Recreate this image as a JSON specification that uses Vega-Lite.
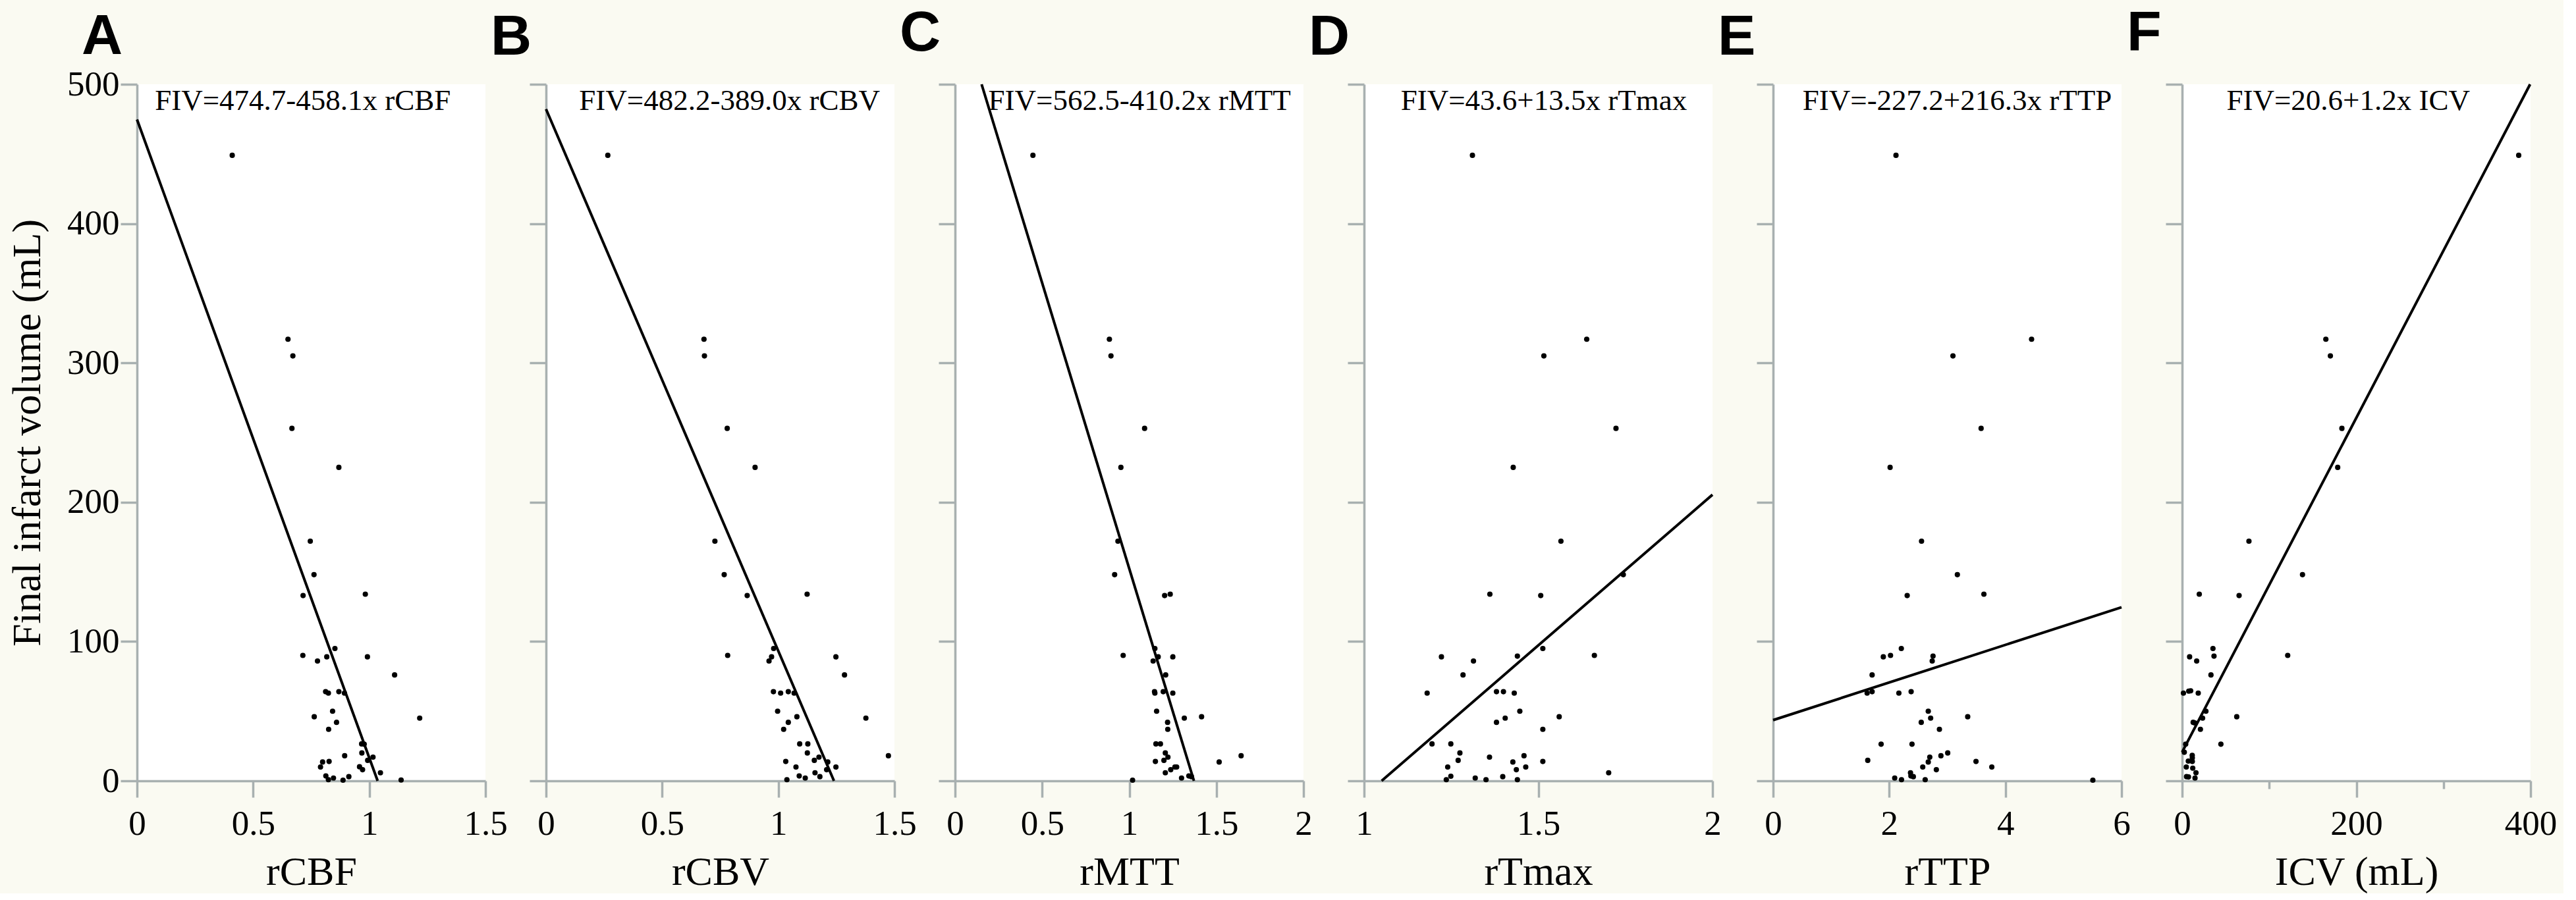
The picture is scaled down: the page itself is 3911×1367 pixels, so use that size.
{
  "$schema": "https://vega.github.io/schema/vega-lite/v6.json",
  "background": "#fafaf2",
  "padding": {"left": 10, "top": 8, "right": 10, "bottom": 2},
  "bounds": "flush",
  "spacing": 92,
  "datasets": {
    "pts": [
      {"panel":"A","x":0.41,"y":449},{"panel":"A","x":0.65,"y":317},{"panel":"A","x":0.671,"y":305},{"panel":"A","x":0.667,"y":253},{"panel":"A","x":0.869,"y":225},{"panel":"A","x":0.746,"y":172},{"panel":"A","x":0.762,"y":148},{"panel":"A","x":0.715,"y":133},{"panel":"A","x":0.983,"y":134},{"panel":"A","x":0.852,"y":95},{"panel":"A","x":0.714,"y":90},{"panel":"A","x":0.817,"y":89},{"panel":"A","x":0.777,"y":86},{"panel":"A","x":0.992,"y":89},{"panel":"A","x":1.109,"y":76},{"panel":"A","x":0.812,"y":64},{"panel":"A","x":0.824,"y":63},{"panel":"A","x":0.869,"y":64},{"panel":"A","x":0.893,"y":63},{"panel":"A","x":0.842,"y":50},{"panel":"A","x":0.763,"y":46},{"panel":"A","x":1.217,"y":45},{"panel":"A","x":0.859,"y":42},{"panel":"A","x":0.825,"y":37},{"panel":"A","x":0.967,"y":26.5},{"panel":"A","x":0.978,"y":26.3},{"panel":"A","x":0.968,"y":20},{"panel":"A","x":0.894,"y":18},{"panel":"A","x":1.016,"y":17},{"panel":"A","x":0.993,"y":14.7},{"panel":"A","x":0.799,"y":13.5},{"panel":"A","x":0.827,"y":13.9},{"panel":"A","x":0.79,"y":9.9},{"panel":"A","x":0.958,"y":10.1},{"panel":"A","x":0.971,"y":8},{"panel":"A","x":1.048,"y":5.8},{"panel":"A","x":0.813,"y":3.5},{"panel":"A","x":0.846,"y":2},{"panel":"A","x":0.912,"y":3},{"panel":"A","x":0.824,"y":0.8},{"panel":"A","x":0.887,"y":0.5},{"panel":"A","x":1.137,"y":0.6},
      {"panel":"B","x":0.266,"y":449},{"panel":"B","x":0.68,"y":317},{"panel":"B","x":0.682,"y":305},{"panel":"B","x":0.78,"y":253},{"panel":"B","x":0.9,"y":225},{"panel":"B","x":0.727,"y":172},{"panel":"B","x":0.767,"y":148},{"panel":"B","x":0.866,"y":133},{"panel":"B","x":1.124,"y":134},{"panel":"B","x":0.98,"y":95},{"panel":"B","x":0.782,"y":90},{"panel":"B","x":0.971,"y":89},{"panel":"B","x":0.96,"y":86},{"panel":"B","x":1.248,"y":89},{"panel":"B","x":1.285,"y":76},{"panel":"B","x":0.979,"y":64},{"panel":"B","x":1.01,"y":63},{"panel":"B","x":1.043,"y":64},{"panel":"B","x":1.068,"y":63},{"panel":"B","x":0.997,"y":50},{"panel":"B","x":1.08,"y":46},{"panel":"B","x":1.377,"y":45},{"panel":"B","x":1.043,"y":42},{"panel":"B","x":1.023,"y":37},{"panel":"B","x":1.092,"y":26.5},{"panel":"B","x":1.127,"y":26.5},{"panel":"B","x":1.125,"y":20},{"panel":"B","x":1.474,"y":18},{"panel":"B","x":1.175,"y":17},{"panel":"B","x":1.155,"y":14.7},{"panel":"B","x":1.032,"y":13.9},{"panel":"B","x":1.213,"y":13.5},{"panel":"B","x":1.076,"y":9.9},{"panel":"B","x":1.248,"y":9.9},{"panel":"B","x":1.208,"y":8},{"panel":"B","x":1.158,"y":5.8},{"panel":"B","x":1.09,"y":3.5},{"panel":"B","x":1.116,"y":2},{"panel":"B","x":1.179,"y":3},{"panel":"B","x":1.037,"y":0.8},
      {"panel":"C","x":0.447,"y":449},{"panel":"C","x":0.886,"y":317},{"panel":"C","x":0.895,"y":305},{"panel":"C","x":1.088,"y":253},{"panel":"C","x":0.952,"y":225},{"panel":"C","x":0.935,"y":172},{"panel":"C","x":0.916,"y":148},{"panel":"C","x":1.203,"y":133},{"panel":"C","x":1.235,"y":134},{"panel":"C","x":1.147,"y":95},{"panel":"C","x":0.965,"y":90},{"panel":"C","x":1.166,"y":89},{"panel":"C","x":1.137,"y":86},{"panel":"C","x":1.25,"y":89},{"panel":"C","x":1.209,"y":76},{"panel":"C","x":1.145,"y":64},{"panel":"C","x":1.147,"y":63},{"panel":"C","x":1.195,"y":64},{"panel":"C","x":1.25,"y":63},{"panel":"C","x":1.157,"y":50},{"panel":"C","x":1.316,"y":45},{"panel":"C","x":1.415,"y":46},{"panel":"C","x":1.22,"y":42},{"panel":"C","x":1.221,"y":37},{"panel":"C","x":1.153,"y":26.5},{"panel":"C","x":1.179,"y":26.5},{"panel":"C","x":1.207,"y":20},{"panel":"C","x":1.642,"y":18},{"panel":"C","x":1.222,"y":17},{"panel":"C","x":1.199,"y":14.7},{"panel":"C","x":1.15,"y":13.9},{"panel":"C","x":1.516,"y":13.5},{"panel":"C","x":1.262,"y":9.9},{"panel":"C","x":1.272,"y":9.9},{"panel":"C","x":1.238,"y":8},{"panel":"C","x":1.207,"y":5.8},{"panel":"C","x":1.3,"y":2},{"panel":"C","x":1.342,"y":3.5},{"panel":"C","x":1.357,"y":3},{"panel":"C","x":1.019,"y":0.5},
      {"panel":"D","x":1.311,"y":449},{"panel":"D","x":1.639,"y":317},{"panel":"D","x":1.516,"y":305},{"panel":"D","x":1.723,"y":253},{"panel":"D","x":1.428,"y":225},{"panel":"D","x":1.565,"y":172},{"panel":"D","x":1.744,"y":148},{"panel":"D","x":1.361,"y":134},{"panel":"D","x":1.507,"y":133},{"panel":"D","x":1.513,"y":95},{"panel":"D","x":1.222,"y":89},{"panel":"D","x":1.44,"y":89.5},{"panel":"D","x":1.314,"y":86},{"panel":"D","x":1.661,"y":90},{"panel":"D","x":1.284,"y":76},{"panel":"D","x":1.181,"y":63},{"panel":"D","x":1.38,"y":64},{"panel":"D","x":1.4,"y":64},{"panel":"D","x":1.431,"y":63},{"panel":"D","x":1.447,"y":50},{"panel":"D","x":1.405,"y":45},{"panel":"D","x":1.56,"y":46},{"panel":"D","x":1.38,"y":42},{"panel":"D","x":1.513,"y":37},{"panel":"D","x":1.195,"y":26.5},{"panel":"D","x":1.249,"y":26.5},{"panel":"D","x":1.275,"y":20},{"panel":"D","x":1.36,"y":17},{"panel":"D","x":1.459,"y":18},{"panel":"D","x":1.27,"y":14.7},{"panel":"D","x":1.427,"y":13.5},{"panel":"D","x":1.513,"y":13.9},{"panel":"D","x":1.24,"y":9.9},{"panel":"D","x":1.464,"y":9.9},{"panel":"D","x":1.437,"y":8},{"panel":"D","x":1.702,"y":5.8},{"panel":"D","x":1.249,"y":3.3},{"panel":"D","x":1.319,"y":2},{"panel":"D","x":1.398,"y":3},{"panel":"D","x":1.236,"y":0.8},{"panel":"D","x":1.35,"y":0.8},{"panel":"D","x":1.44,"y":0.8},
      {"panel":"E","x":2.116,"y":449},{"panel":"E","x":4.451,"y":317},{"panel":"E","x":3.097,"y":305},{"panel":"E","x":3.582,"y":253},{"panel":"E","x":2.015,"y":225},{"panel":"E","x":2.556,"y":172},{"panel":"E","x":3.173,"y":148},{"panel":"E","x":2.309,"y":133},{"panel":"E","x":3.63,"y":134},{"panel":"E","x":2.208,"y":95},{"panel":"E","x":1.898,"y":89},{"panel":"E","x":2.022,"y":90},{"panel":"E","x":2.754,"y":89.5},{"panel":"E","x":2.74,"y":86},{"panel":"E","x":1.705,"y":76},{"panel":"E","x":1.619,"y":63},{"panel":"E","x":1.705,"y":64},{"panel":"E","x":2.166,"y":63},{"panel":"E","x":2.377,"y":64},{"panel":"E","x":2.672,"y":50},{"panel":"E","x":2.713,"y":45},{"panel":"E","x":2.551,"y":42},{"panel":"E","x":3.351,"y":46},{"panel":"E","x":2.864,"y":37},{"panel":"E","x":1.86,"y":26.3},{"panel":"E","x":2.392,"y":26.3},{"panel":"E","x":3.007,"y":20},{"panel":"E","x":2.89,"y":18},{"panel":"E","x":2.698,"y":17},{"panel":"E","x":1.63,"y":14.7},{"panel":"E","x":2.672,"y":13.5},{"panel":"E","x":3.494,"y":13.9},{"panel":"E","x":2.577,"y":9.9},{"panel":"E","x":3.766,"y":9.9},{"panel":"E","x":2.811,"y":8},{"panel":"E","x":2.366,"y":5.8},{"panel":"E","x":2.094,"y":2},{"panel":"E","x":2.373,"y":3.5},{"panel":"E","x":2.415,"y":3},{"panel":"E","x":2.211,"y":0.8},{"panel":"E","x":2.619,"y":0.8},{"panel":"E","x":5.506,"y":0.5},
      {"panel":"F","x":386.4,"y":449},{"panel":"F","x":165,"y":317},{"panel":"F","x":170.2,"y":305},{"panel":"F","x":183.4,"y":253},{"panel":"F","x":178.6,"y":225},{"panel":"F","x":76.7,"y":172},{"panel":"F","x":138.2,"y":148},{"panel":"F","x":19.7,"y":134},{"panel":"F","x":65.4,"y":133},{"panel":"F","x":35.4,"y":95},{"panel":"F","x":36.6,"y":89.5},{"panel":"F","x":8.6,"y":89},{"panel":"F","x":16.7,"y":86},{"panel":"F","x":121.2,"y":90},{"panel":"F","x":33.1,"y":76},{"panel":"F","x":1.5,"y":63},{"panel":"F","x":7.6,"y":64.4},{"panel":"F","x":9.8,"y":64.6},{"panel":"F","x":18.5,"y":63},{"panel":"F","x":27.3,"y":50},{"panel":"F","x":23.5,"y":45},{"panel":"F","x":62.7,"y":46},{"panel":"F","x":12.7,"y":42},{"panel":"F","x":14.5,"y":41.6},{"panel":"F","x":21,"y":37},{"panel":"F","x":44.5,"y":26.3},{"panel":"F","x":4.1,"y":26.3},{"panel":"F","x":2.5,"y":20.5},{"panel":"F","x":11.6,"y":18.3},{"panel":"F","x":11.7,"y":16.5},{"panel":"F","x":7.1,"y":14.2},{"panel":"F","x":11.7,"y":13.9},{"panel":"F","x":4.8,"y":9.9},{"panel":"F","x":12.2,"y":9.1},{"panel":"F","x":15.9,"y":5.8},{"panel":"F","x":5.1,"y":3},{"panel":"F","x":7.3,"y":2.8},{"panel":"F","x":14.8,"y":2}
    ],
    "fits": [
      {"panel":"A","x":0,"y":474.7},{"panel":"A","x":1.036,"y":0},
      {"panel":"B","x":0,"y":482.2},{"panel":"B","x":1.2396,"y":0},
      {"panel":"C","x":0.1524,"y":500},{"panel":"C","x":1.3713,"y":0},
      {"panel":"D","x":1.0504,"y":0},{"panel":"D","x":2,"y":205.4},
      {"panel":"E","x":0,"y":43.6},{"panel":"E","x":6,"y":124.6},
      {"panel":"F","x":0,"y":20.6},{"panel":"F","x":399.5,"y":500}
    ],
    "eqs": [
      {"panel":"A","label":"FIV=474.7-458.1x rCBF"},
      {"panel":"B","label":"FIV=482.2-389.0x rCBV"},
      {"panel":"C","label":"FIV=562.5-410.2x rMTT"},
      {"panel":"D","label":"FIV=43.6+13.5x rTmax"},
      {"panel":"E","label":"FIV=-227.2+216.3x rTTP"},
      {"panel":"F","label":"FIV=20.6+1.2x ICV"}
    ]
  },
  "config": {
    "view": {"stroke": null, "fill": "white"},
    "axis": {"domainColor": "#a8b0b0", "domainWidth": 3.5, "tickColor": "#a8b0b0", "tickWidth": 3.5, "tickSize": 25, "grid": false, "labelFont": "Liberation Serif", "labelFontSize": 53, "labelColor": "black", "labelOverlap": false, "titleFont": "Liberation Serif", "titleFontSize": 62, "titleFontWeight": "normal", "titleColor": "black"},
    "axisX": {"labelPadding": 14, "titlePadding": 16, "labelFlush": false},
    "axisY": {"labelPadding": 2, "titlePadding": 28},
    "title": {"font": "Liberation Sans", "fontSize": 86, "fontWeight": "bold", "anchor": "start", "frame": "group", "dx": -84, "baseline": "alphabetic", "offset": 25, "color": "black"},
    "point": {"filled": true, "color": "black", "size": 66, "opacity": 1},
    "line": {"color": "black", "strokeWidth": 4}
  },
  "hconcat": [
    {
      "width": 529, "height": 1058,
      "title": {"text": "A", "offset": 2},
      "layer": [
        {"data": {"name": "pts"}, "transform": [{"filter": "datum.panel === 'A'"}], "mark": "point",
         "encoding": {
           "x": {"field": "x", "type": "quantitative", "title": "rCBF", "scale": {"domain": [0, 1.5], "nice": false}, "axis": {"values": [0, 0.5, 1, 1.5], "format": "~g"}},
           "y": {"field": "y", "type": "quantitative", "title": "Final infarct volume (mL)", "scale": {"domain": [0, 500], "nice": false}, "axis": {"values": [0, 100, 200, 300, 400, 500], "format": "d"}}}},
        {"data": {"name": "fits"}, "transform": [{"filter": "datum.panel === 'A'"}], "mark": "line",
         "encoding": {"x": {"field": "x", "type": "quantitative"}, "y": {"field": "y", "type": "quantitative"}}},
        {"data": {"name": "eqs"}, "transform": [{"filter": "datum.panel === 'A'"}],
         "mark": {"type": "text", "font": "Liberation Serif", "fontSize": 45, "baseline": "alphabetic", "align": "center", "color": "black"},
         "encoding": {"text": {"field": "label", "type": "nominal"}, "x": {"datum": 0.714, "type": "quantitative"}, "y": {"datum": 481.6, "type": "quantitative"}}}
      ]
    },
    {
      "width": 529, "height": 1058,
      "title": "B",
      "layer": [
        {"data": {"name": "pts"}, "transform": [{"filter": "datum.panel === 'B'"}], "mark": "point",
         "encoding": {
           "x": {"field": "x", "type": "quantitative", "title": "rCBV", "scale": {"domain": [0, 1.5], "nice": false}, "axis": {"values": [0, 0.5, 1, 1.5], "format": "~g"}},
           "y": {"field": "y", "type": "quantitative", "title": null, "scale": {"domain": [0, 500], "nice": false}, "axis": {"values": [0, 100, 200, 300, 400, 500], "labels": false}}}},
        {"data": {"name": "fits"}, "transform": [{"filter": "datum.panel === 'B'"}], "mark": "line",
         "encoding": {"x": {"field": "x", "type": "quantitative"}, "y": {"field": "y", "type": "quantitative"}}},
        {"data": {"name": "eqs"}, "transform": [{"filter": "datum.panel === 'B'"}],
         "mark": {"type": "text", "font": "Liberation Serif", "fontSize": 45, "baseline": "alphabetic", "align": "center", "color": "black"},
         "encoding": {"text": {"field": "label", "type": "nominal"}, "x": {"datum": 0.79, "type": "quantitative"}, "y": {"datum": 481.6, "type": "quantitative"}}}
      ]
    },
    {
      "width": 529, "height": 1058,
      "title": "C",
      "layer": [
        {"data": {"name": "pts"}, "transform": [{"filter": "datum.panel === 'C'"}], "mark": "point",
         "encoding": {
           "x": {"field": "x", "type": "quantitative", "title": "rMTT", "scale": {"domain": [0, 2], "nice": false}, "axis": {"values": [0, 0.5, 1, 1.5, 2], "format": "~g"}},
           "y": {"field": "y", "type": "quantitative", "title": null, "scale": {"domain": [0, 500], "nice": false}, "axis": {"values": [0, 100, 200, 300, 400, 500], "labels": false}}}},
        {"data": {"name": "fits"}, "transform": [{"filter": "datum.panel === 'C'"}], "mark": "line",
         "encoding": {"x": {"field": "x", "type": "quantitative"}, "y": {"field": "y", "type": "quantitative"}}},
        {"data": {"name": "eqs"}, "transform": [{"filter": "datum.panel === 'C'"}],
         "mark": {"type": "text", "font": "Liberation Serif", "fontSize": 45, "baseline": "alphabetic", "align": "center", "color": "black"},
         "encoding": {"text": {"field": "label", "type": "nominal"}, "x": {"datum": 1.059, "type": "quantitative"}, "y": {"datum": 481.6, "type": "quantitative"}}}
      ]
    },
    {
      "width": 529, "height": 1058,
      "title": "D",
      "layer": [
        {"data": {"name": "pts"}, "transform": [{"filter": "datum.panel === 'D'"}], "mark": "point",
         "encoding": {
           "x": {"field": "x", "type": "quantitative", "title": "rTmax", "scale": {"domain": [1, 2], "nice": false, "zero": false}, "axis": {"values": [1, 1.5, 2], "format": "~g"}},
           "y": {"field": "y", "type": "quantitative", "title": null, "scale": {"domain": [0, 500], "nice": false}, "axis": {"values": [0, 100, 200, 300, 400, 500], "labels": false}}}},
        {"data": {"name": "fits"}, "transform": [{"filter": "datum.panel === 'D'"}], "mark": "line",
         "encoding": {"x": {"field": "x", "type": "quantitative"}, "y": {"field": "y", "type": "quantitative"}}},
        {"data": {"name": "eqs"}, "transform": [{"filter": "datum.panel === 'D'"}],
         "mark": {"type": "text", "font": "Liberation Serif", "fontSize": 45, "baseline": "alphabetic", "align": "center", "color": "black"},
         "encoding": {"text": {"field": "label", "type": "nominal"}, "x": {"datum": 1.516, "type": "quantitative"}, "y": {"datum": 481.6, "type": "quantitative"}}}
      ]
    },
    {
      "width": 529, "height": 1058,
      "title": "E",
      "layer": [
        {"data": {"name": "pts"}, "transform": [{"filter": "datum.panel === 'E'"}], "mark": "point",
         "encoding": {
           "x": {"field": "x", "type": "quantitative", "title": "rTTP", "scale": {"domain": [0, 6], "nice": false}, "axis": {"values": [0, 2, 4, 6], "format": "~g"}},
           "y": {"field": "y", "type": "quantitative", "title": null, "scale": {"domain": [0, 500], "nice": false}, "axis": {"values": [0, 100, 200, 300, 400, 500], "labels": false}}}},
        {"data": {"name": "fits"}, "transform": [{"filter": "datum.panel === 'E'"}], "mark": "line",
         "encoding": {"x": {"field": "x", "type": "quantitative"}, "y": {"field": "y", "type": "quantitative"}}},
        {"data": {"name": "eqs"}, "transform": [{"filter": "datum.panel === 'E'"}],
         "mark": {"type": "text", "font": "Liberation Serif", "fontSize": 45, "baseline": "alphabetic", "align": "center", "color": "black"},
         "encoding": {"text": {"field": "label", "type": "nominal"}, "x": {"datum": 3.17, "type": "quantitative"}, "y": {"datum": 481.6, "type": "quantitative"}}}
      ]
    },
    {
      "width": 529, "height": 1058,
      "title": "F",
      "layer": [
        {"data": {"name": "pts"}, "transform": [{"filter": "datum.panel === 'F'"}], "mark": "point",
         "encoding": {
           "x": {"field": "x", "type": "quantitative", "title": "ICV (mL)", "scale": {"domain": [0, 400], "nice": false}, "axis": {"values": [0, 100, 200, 300, 400], "labelExpr": "datum.value % 200 === 0 ? datum.label : ''", "tickSize": {"condition": {"test": "datum.value % 200 === 0", "value": 25}, "value": 12}}},
           "y": {"field": "y", "type": "quantitative", "title": null, "scale": {"domain": [0, 500], "nice": false}, "axis": {"values": [0, 100, 200, 300, 400, 500], "labels": false}}}},
        {"data": {"name": "fits"}, "transform": [{"filter": "datum.panel === 'F'"}], "mark": "line",
         "encoding": {"x": {"field": "x", "type": "quantitative"}, "y": {"field": "y", "type": "quantitative"}}},
        {"data": {"name": "eqs"}, "transform": [{"filter": "datum.panel === 'F'"}],
         "mark": {"type": "text", "font": "Liberation Serif", "fontSize": 45, "baseline": "alphabetic", "align": "center", "color": "black"},
         "encoding": {"text": {"field": "label", "type": "nominal"}, "x": {"datum": 190.7, "type": "quantitative"}, "y": {"datum": 481.6, "type": "quantitative"}}}
      ]
    }
  ]
}
